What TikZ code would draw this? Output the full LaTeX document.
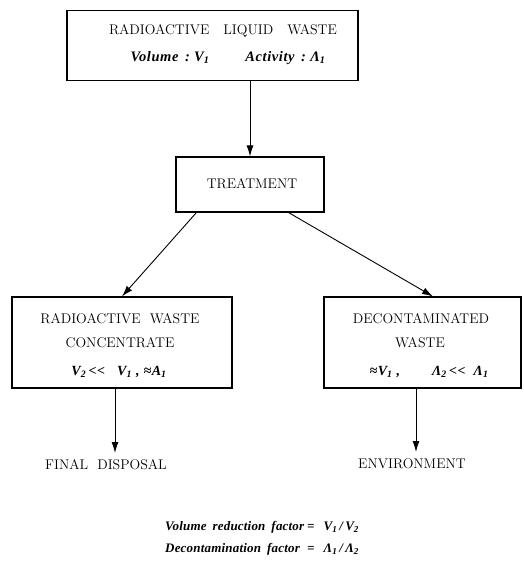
\documentclass[tikz,border=0pt]{standalone}
\usepackage{fontspec}
\newfontfamily\itfont{Liberation Serif}[LetterSpace=4]
\newfontfamily\itfontb{Liberation Serif}[LetterSpace=1.5]
\usetikzlibrary{arrows.meta}
\begin{document}
\begin{tikzpicture}[x=1pt,y=-1pt,
  box/.style={draw, line width=1.1pt, inner sep=0pt},
  arr/.style={-{Latex[length=11pt,width=7pt]}, line width=0.9pt},
  caps/.style={font=\fontsize{14}{16}\selectfont, inner sep=1pt},
  ital/.style={font=\fontsize{14}{16}\selectfont\itfont\bfseries\itshape, inner sep=1pt},
  botl/.style={anchor=west, inner sep=1pt, font=\fontsize{13}{16}\selectfont\itfontb\bfseries\itshape}]
\useasboundingbox (0,0) rectangle (524,578);
% boxes
\node[box, minimum width=291pt, minimum height=70pt] (top) at (212.5,45.5) {};
\node[box, minimum width=148pt, minimum height=55pt] (treat) at (250,184.5) {};
\node[box, minimum width=220pt, minimum height=91pt] (left) at (122,342.5) {};
\node[box, minimum width=197pt, minimum height=91pt] (right) at (422.5,342.5) {};
% texts
\node[caps] (t1) at (223,31) {RADIOACTIVE\quad LIQUID\quad WASTE};
\node[ital, font=\fontsize{14.5}{16}\selectfont\itfont\bfseries\itshape] (t2) at (228,58) {Volume\ \,:\ V\textsubscript{1}\hspace{36pt}Activity\ \,:\ Λ\textsubscript{1}};
\node[caps] (tr) at (252,184) {TREATMENT};
\node[caps] (l1) at (120,319) {RADIOACTIVE\ \ WASTE};
\node[caps] (l2) at (120,343) {CONCENTRATE};
\node[ital] (l3) at (119,372) {V\textsubscript{2}\,<<\ \ \ V\textsubscript{1}\ ,\ ≈A\textsubscript{1}};
\node[caps] (r1) at (421,319) {DECONTAMINATED};
\node[caps] (r2) at (420,343) {WASTE};
\node[ital] (r3) at (429,372) {≈V\textsubscript{1}\ ,\hspace{32pt}Λ\textsubscript{2}\,<<\hspace{8pt}Λ\textsubscript{1}};
\node[caps] (fd) at (106,465) {FINAL\ \ DISPOSAL};
\node[caps] (env) at (412,464) {ENVIRONMENT};
\node[botl] (f1) at (164,527) {Volume\hspace{6pt}reduction\hspace{6pt}factor};
\node[botl] (f1r) at (306,527) {=\hspace{9pt}V\textsubscript{1}\,/\,V\textsubscript{2}};
\node[botl] (f2) at (164,549) {Decontamination\hspace{6pt}factor};
\node[botl] (f2r) at (306,549) {=\hspace{9pt}Λ\textsubscript{1}\,/\,Λ\textsubscript{2}};
% connector ends
\coordinate (fdtip) at (115,453);
\coordinate (envtip) at (416,452);
% connectors
\draw[arr] (treat.north |- top.south) -- (treat.north);
\draw[arr] ([xshift=21pt]treat.south west) -- (left.north);
\draw[arr] ([xshift=-36pt]treat.south east) -- ([xshift=10.5pt]right.north);
\draw[arr] (left.south -| fdtip) -- (fdtip);
\draw[arr] (right.south -| envtip) -- (envtip);
\end{tikzpicture}
\end{document}
